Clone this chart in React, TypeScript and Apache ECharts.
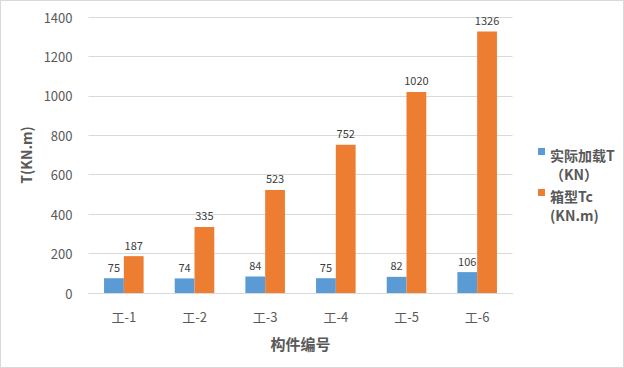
import React, { useEffect, useRef } from "react";
import * as echarts from "echarts";

const categories = ["工-1", "工-2", "工-3", "工-4", "工-5", "工-6"];
const actualT = [75, 74, 84, 75, 82, 106];
const boxTc = [187, 335, 523, 752, 1020, 1326];
const seriesNames = ["实际加载T（KN）", "箱型Tc(KN.m)"];

export default function App() {
  const ref = useRef<HTMLDivElement>(null);
  useEffect(() => {
    const chart = echarts.init(ref.current!, null, { renderer: "svg" });
    const font = "'Microsoft YaHei', 'Noto Sans CJK SC', sans-serif";
    chart.setOption({
      animation: false,
      backgroundColor: "#ffffff",
      textStyle: { fontFamily: font },
      grid: { left: 87.5, right: 110.5, top: 16, bottom: 74, containLabel: false },
      legend: {
        orient: "vertical",
        left: 532,
        top: 139,
        itemWidth: 7,
        itemHeight: 38,
        itemGap: 3,
        icon: "path://M0,6h7v7h-7z M0,38h0.01v0.01h-0.01z",
        textStyle: { color: "#595959", fontSize: 14, fontWeight: "bold", lineHeight: 19, fontFamily: font },
        formatter: (name: string) =>
          name === seriesNames[0] ? "实际加载T\n（KN）" : "箱型Tc\n(KN.m)",
        data: seriesNames,
      },
      xAxis: {
        type: "category",
        data: categories,
        axisLine: { lineStyle: { color: "#d9d9d9" } },
        axisTick: { show: false },
        axisLabel: { color: "#595959", fontSize: 13, margin: 17 },
        name: "构件编号",
        nameLocation: "middle",
        nameGap: 43,
        nameTextStyle: { color: "#595959", fontSize: 15, fontWeight: "bold" },
      },
      yAxis: {
        type: "value",
        min: 0,
        max: 1400,
        interval: 200,
        axisLine: { show: false },
        axisTick: { show: false },
        splitLine: { lineStyle: { color: "#d9d9d9" } },
        axisLabel: { color: "#595959", fontSize: 13, margin: 16, formatter: (v: number) => String(v) },
        name: "T(KN.m)",
        nameLocation: "middle",
        nameGap: 54,
        nameTextStyle: { color: "#595959", fontSize: 14, fontWeight: "bold" },
      },
      series: [
        {
          name: seriesNames[0],
          type: "bar",
          data: actualT,
          itemStyle: { color: "#5b9bd5" },
          barGap: "0%",
          barCategoryGap: "44%",
          label: { show: true, position: "top", color: "#404040", fontSize: 11, distance: 6 },
        },
        {
          name: seriesNames[1],
          type: "bar",
          data: boxTc,
          itemStyle: { color: "#ed7d31" },
          barGap: "0%",
          barCategoryGap: "44%",
          label: { show: true, position: "top", color: "#404040", fontSize: 11, distance: 6 },
        },
      ],
    });
    return () => chart.dispose();
  }, []);
  return (
    <div
      style={{
        position: "fixed",
        left: 0,
        top: 0,
        width: 624,
        height: 368,
        boxSizing: "border-box",
        border: "1px solid #d9d9d9",
        background: "#fff",
      }}
    >
      <div ref={ref} style={{ width: 622, height: 366 }} />
    </div>
  );
}
